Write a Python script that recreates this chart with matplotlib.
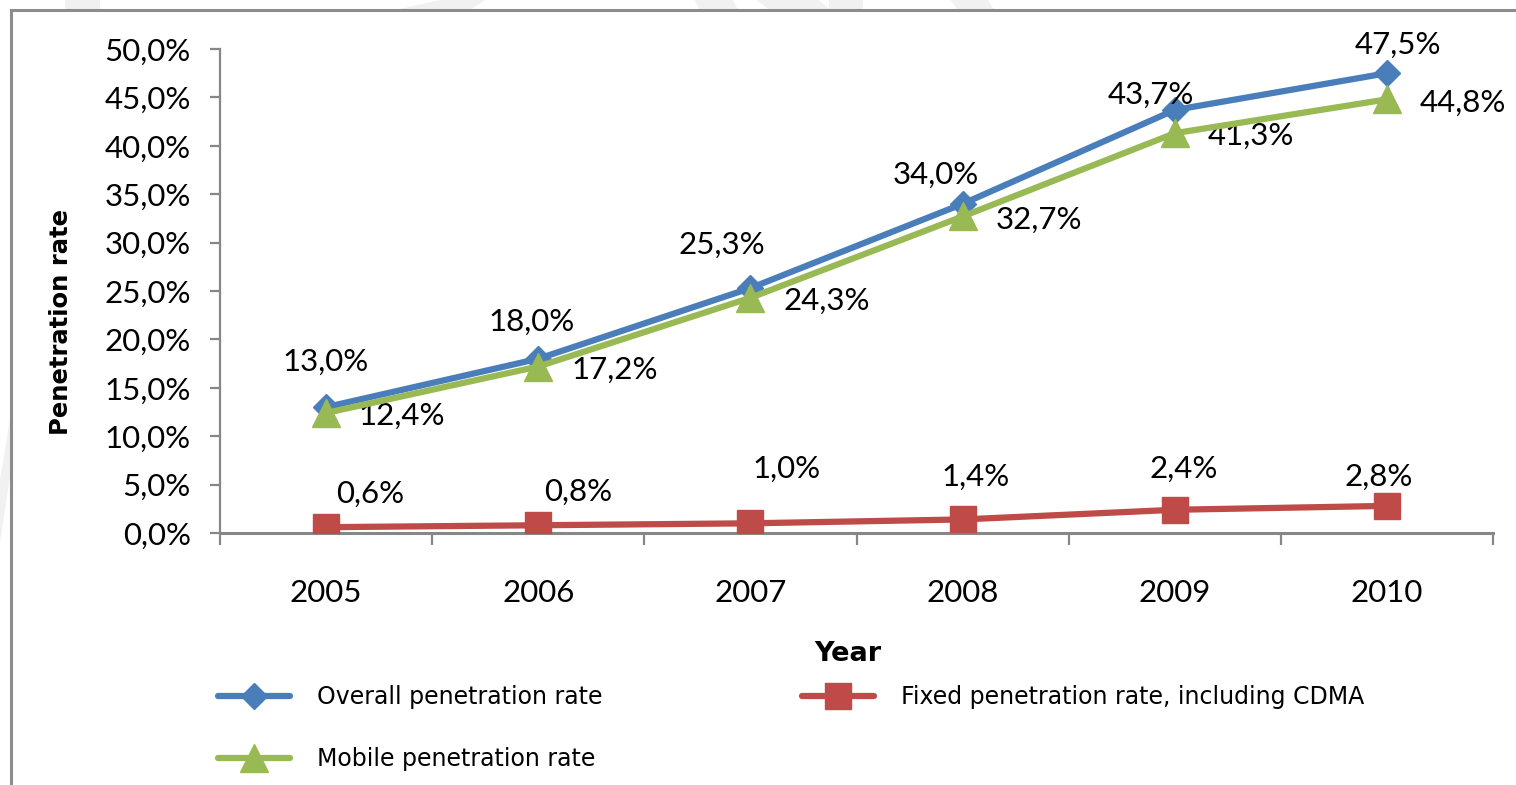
import matplotlib
matplotlib.use('Agg')
import matplotlib.pyplot as plt
from matplotlib.lines import Line2D
from matplotlib.patches import Polygon
from matplotlib.ticker import FuncFormatter, FixedLocator

# 数据
years = ['2005', '2006', '2007', '2008', '2009', '2010']
overall = [13.0, 18.0, 25.3, 34.0, 43.7, 47.5]
fixed = [0.6, 0.8, 1.0, 1.4, 2.4, 2.8]
mobile = [12.4, 17.2, 24.3, 32.7, 41.3, 44.8]

# 数据标签偏移 (像素)
overall_off = [(0, 45), (-7, 37), (-29, 43), (-27, 29), (-24, 15), (11, 28)]
fixed_off = [(44, 33), (40, 33), (36, 55), (13, 43), (9, 41), (-8, 29)]
mobile_off = [(76, -3)] * 6

W, H = 1516, 785
fig = plt.figure(figsize=(W / 100, H / 100), dpi=100)
fig.patch.set_facecolor('white')

def px(x, y):
    return (x / W, 1 - y / H)

# 背景水印（只在边框外露出一点）
wm = '#f1f1f1'
for poly in [
    [(65, 0), (100, 0), (100, 10), (65, 10)],
    [(395, 10), (440, 0), (485, 0), (470, 10)],
    [(694, 0), (733, 0), (738, 10), (700, 10)],
    [(756, 0), (819, 0), (830, 10), (770, 10)],
    [(829, 0), (863, 0), (863, 10), (829, 10)],
    [(950, 0), (988, 0), (994, 10), (958, 10)],
    [(11, 413), (11, 470), (0, 543), (0, 480)],
]:
    fig.add_artist(Polygon([px(*p) for p in poly], closed=True, transform=fig.transFigure,
                           facecolor=wm, edgecolor='none', zorder=0))

# 图表外框
frame_c = '#8c8c8c'
fig.add_artist(Line2D([11 / W, 11 / W], [1 - 10 / H, 0], transform=fig.transFigure,
                      color=frame_c, lw=2.2))
fig.add_artist(Line2D([11 / W, 1], [1 - 10 / H, 1 - 10 / H], transform=fig.transFigure,
                      color=frame_c, lw=2.2))

ax = fig.add_axes([220 / W, 1 - 533 / H, (1493 - 220) / W, (533 - 49) / H])
x = list(range(len(years)))

blue, red, green = '#4A7EBB', '#BE4B48', '#98B954'
lw = 4.5
l1, = ax.plot(x, overall, color=blue, lw=lw, marker='D', ms=13.7, mec=blue,
              solid_capstyle='round', label='Overall penetration rate', zorder=3)
l2, = ax.plot(x, fixed, color=red, lw=lw, marker='s', ms=18.5, mec=red,
              solid_capstyle='round', label='Fixed penetration rate, including CDMA', zorder=3)
l3, = ax.plot(x, mobile, color=green, lw=lw, marker='^', ms=19.5, mec=green,
              solid_capstyle='round', label='Mobile penetration rate', zorder=4)

label_font = dict(family='Lato', fontsize=22.5, color='black')

def fmt(v):
    return f'{v:.1f}%'.replace('.', ',')

for vals, offs in [(overall, overall_off), (fixed, fixed_off), (mobile, mobile_off)]:
    for xi, v, off in zip(x, vals, offs):
        ax.annotate(fmt(v), (xi, v), xytext=off, textcoords='offset pixels',
                    ha='center', va='center', **label_font)

ax.set_xlim(-0.5, len(years) - 0.5)
ax.set_ylim(0, 50)
ax.yaxis.set_major_locator(FixedLocator([i * 5 for i in range(11)]))
ax.yaxis.set_major_formatter(FuncFormatter(lambda v, p: fmt(v)))
ax.set_xticks(x)
ax.set_xticklabels(years)
ax.set_xticks([i - 0.5 for i in range(len(years) + 1)], minor=True)

for s in ['top', 'right']:
    ax.spines[s].set_visible(False)
ax.spines['left'].set_color('#878787')
ax.spines['left'].set_linewidth(1.6)
ax.spines['bottom'].set_color('#878787')
ax.spines['bottom'].set_linewidth(2.2)

ax.tick_params(axis='y', direction='out', length=7, width=1.6, color='#878787',
               pad=14, labelsize=22.5)
ax.tick_params(axis='x', which='major', length=0, pad=33, labelsize=22.5)
ax.tick_params(axis='x', which='minor', direction='out', length=8.5, width=1.6,
               color='#878787')
for lab in ax.get_xticklabels() + ax.get_yticklabels():
    lab.set_family('Lato')

fig.text(*px(61, 322), 'Penetration rate', rotation=90, ha='center', va='center',
         family='DejaVu Sans', fontweight='bold', fontsize=17.5)
fig.text(*px(848, 654), 'Year', ha='center', va='center',
         family='DejaVu Sans', fontweight='bold', fontsize=19.5)

fig.legend(handles=[l1, l3, l2], ncol=2, loc='upper left',
           bbox_to_anchor=px(218, 685), frameon=False, borderpad=0, borderaxespad=0,
           prop={'family': 'DejaVu Sans', 'size': 17},
           handlelength=3.05, handletextpad=1.15, columnspacing=8.45, labelspacing=1.6)

plt.savefig('out.png', dpi=100)
